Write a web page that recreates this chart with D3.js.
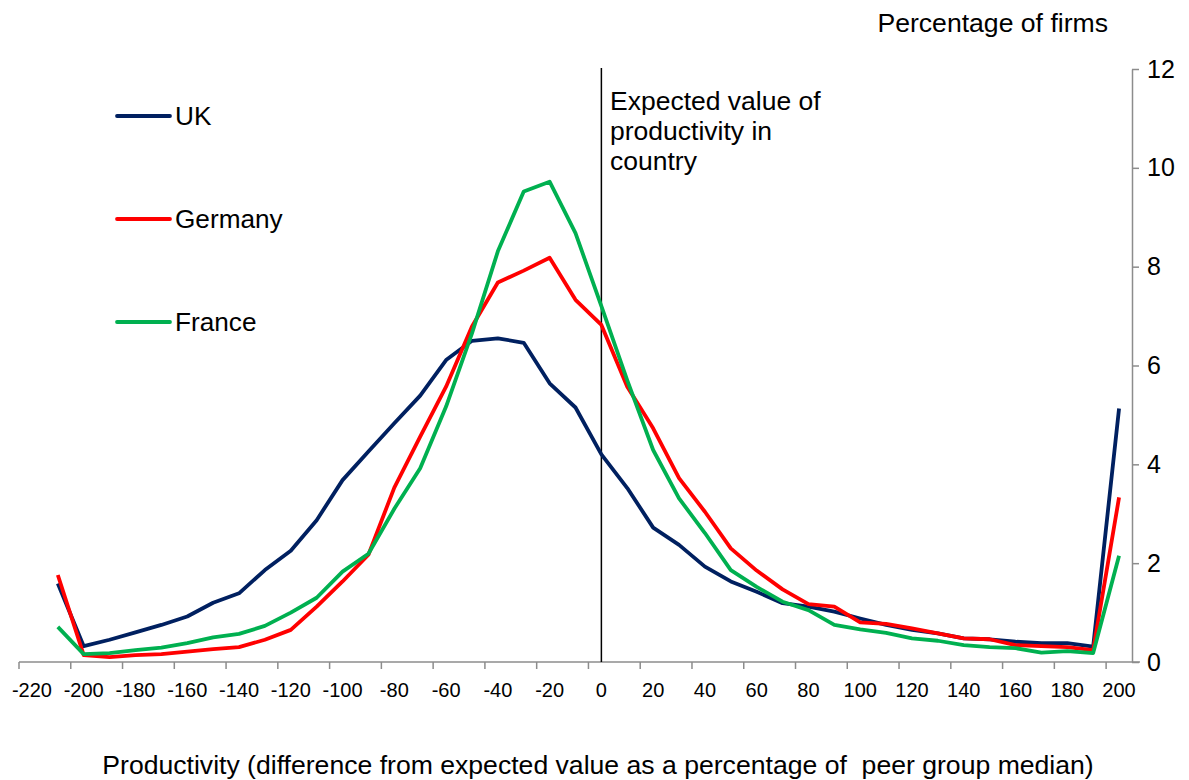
<!DOCTYPE html>
<html>
<head>
<meta charset="utf-8">
<script src="https://cdn.jsdelivr.net/npm/d3@7"></script>
<style>
  html, body { margin: 0; padding: 0; background: #fff; }
  svg { display: block; font-family: "Liberation Sans", Arial, sans-serif; }
</style>
</head>
<body>
<svg id="chart" width="1189" height="780"></svg>
<script>
// Axis categories (productivity difference, % of peer group median)
const axisCategories = d3.range(-220, 201, 10);
const dataCategories = d3.range(-210, 201, 10);
const labelCategories = d3.range(-220, 201, 20);
const yTicks = [0, 2, 4, 6, 8, 10, 12];

// Percentage of firms per bin
const ukValues = [1.59, 0.32, 0.45, 0.60, 0.75, 0.92, 1.20, 1.39, 1.86, 2.25, 2.87, 3.68, 4.26, 4.83, 5.39, 6.11, 6.50, 6.55, 6.46, 5.64, 5.15, 4.20, 3.52, 2.72, 2.37, 1.93, 1.63, 1.42, 1.19, 1.12, 1.02, 0.88, 0.75, 0.65, 0.58, 0.48, 0.46, 0.41, 0.38, 0.38, 0.31, 5.13];
const germanyValues = [1.76, 0.14, 0.10, 0.14, 0.16, 0.21, 0.26, 0.30, 0.45, 0.65, 1.12, 1.63, 2.17, 3.53, 4.56, 5.57, 6.79, 7.68, 7.92, 8.18, 7.33, 6.82, 5.57, 4.73, 3.72, 3.04, 2.30, 1.85, 1.47, 1.17, 1.12, 0.80, 0.77, 0.68, 0.58, 0.48, 0.46, 0.34, 0.32, 0.30, 0.24, 3.33];
const franceValues = [0.71, 0.16, 0.18, 0.24, 0.29, 0.38, 0.50, 0.57, 0.73, 1.00, 1.30, 1.83, 2.19, 3.10, 3.92, 5.17, 6.65, 8.31, 9.52, 9.72, 8.68, 7.20, 5.70, 4.29, 3.31, 2.61, 1.86, 1.52, 1.22, 1.05, 0.75, 0.66, 0.59, 0.48, 0.43, 0.34, 0.30, 0.28, 0.19, 0.22, 0.18, 2.15];

const seriesNames = ["UK", "Germany", "France"];
const seriesColors = ["#002060", "#FF0000", "#00B050"];
const seriesValues = [ukValues, germanyValues, franceValues];

const svg = d3.select("#chart");
const axisColor = "#8c8c8c";

const x = d3.scaleBand().domain(axisCategories).range([19, 1132]).padding(0);
const xc = d => x(d) + x.bandwidth() / 2;
const y = d3.scaleLinear().domain([0, 12]).range([662, 69]);

// X axis line
svg.append("line")
  .attr("x1", x.range()[0]).attr("x2", x.range()[1] + 8)
  .attr("y1", y(0)).attr("y2", y(0))
  .attr("stroke", axisColor).attr("stroke-width", 1.5);

// X ticks (between categories) and labels (centred on categories)
const xAxis = svg.append("g");
xAxis.selectAll("line.tick").data(labelCategories).enter().append("line")
  .attr("x1", d => x(d)).attr("x2", d => x(d))
  .attr("y1", y(0)).attr("y2", y(0) + 7)
  .attr("stroke", axisColor).attr("stroke-width", 1.5);
xAxis.selectAll("text").data(labelCategories).enter().append("text")
  .attr("x", d => xc(d)).attr("y", y(0) + 35)
  .attr("text-anchor", "middle")
  .attr("font-size", 20)
  .attr("fill", "#000")
  .text(d => d);

// Y axis on the right
const yAxis = d3.axisRight(y).tickValues(yTicks).tickSize(7).tickSizeOuter(0).tickPadding(8);
const yg = svg.append("g").attr("transform", `translate(${x.range()[1]},0)`).call(yAxis);
yg.select(".domain").attr("stroke", axisColor).attr("stroke-width", 1.5);
yg.selectAll(".tick line").attr("stroke", axisColor).attr("stroke-width", 1.5);
yg.selectAll(".tick text").attr("font-size", 25).attr("fill", "#000")
  .attr("font-family", "Liberation Sans, Arial, sans-serif");

// Vertical reference line at 0
svg.append("line")
  .attr("x1", xc(0)).attr("x2", xc(0))
  .attr("y1", 68).attr("y2", y(0))
  .attr("stroke", "#000").attr("stroke-width", 1.5);

// Lines
const line = d3.line()
  .x((d, i) => xc(dataCategories[i]))
  .y(d => y(d));
seriesValues.forEach((vals, k) => {
  svg.append("path")
    .datum(vals)
    .attr("fill", "none")
    .attr("stroke", seriesColors[k])
    .attr("stroke-width", 3.8)
    .attr("stroke-linejoin", "round")
    .attr("d", line);
});

// Legend
const legendY = [116, 219, 322];
seriesNames.forEach((name, k) => {
  svg.append("line")
    .attr("x1", 117).attr("x2", 170)
    .attr("y1", legendY[k]).attr("y2", legendY[k])
    .attr("stroke", seriesColors[k]).attr("stroke-width", 3.8)
    .attr("stroke-linecap", "round");
  svg.append("text")
    .attr("x", 175).attr("y", legendY[k]).attr("dy", "0.35em")
    .attr("font-size", 26.2).attr("fill", "#000")
    .text(name);
});

// Annotation
const annotLines = ["Expected value of", "productivity in", "country"];
svg.append("g").selectAll("text").data(annotLines).enter().append("text")
  .attr("x", 610).attr("y", (d, i) => 110 + i * 30)
  .attr("font-size", 26.5).attr("fill", "#000")
  .text(d => d);

// Axis titles
svg.append("text")
  .attr("x", 1108).attr("y", 32)
  .attr("text-anchor", "end")
  .attr("font-size", 26.6).attr("fill", "#000")
  .text("Percentage of firms");
svg.append("text")
  .attr("x", 598).attr("y", 774)
  .attr("text-anchor", "middle")
  .attr("font-size", 26.6).attr("fill", "#000")
  .attr("xml:space", "preserve")
  .style("white-space", "pre")
  .text("Productivity (difference from expected value as a percentage of  peer group median)");
</script>
</body>
</html>
